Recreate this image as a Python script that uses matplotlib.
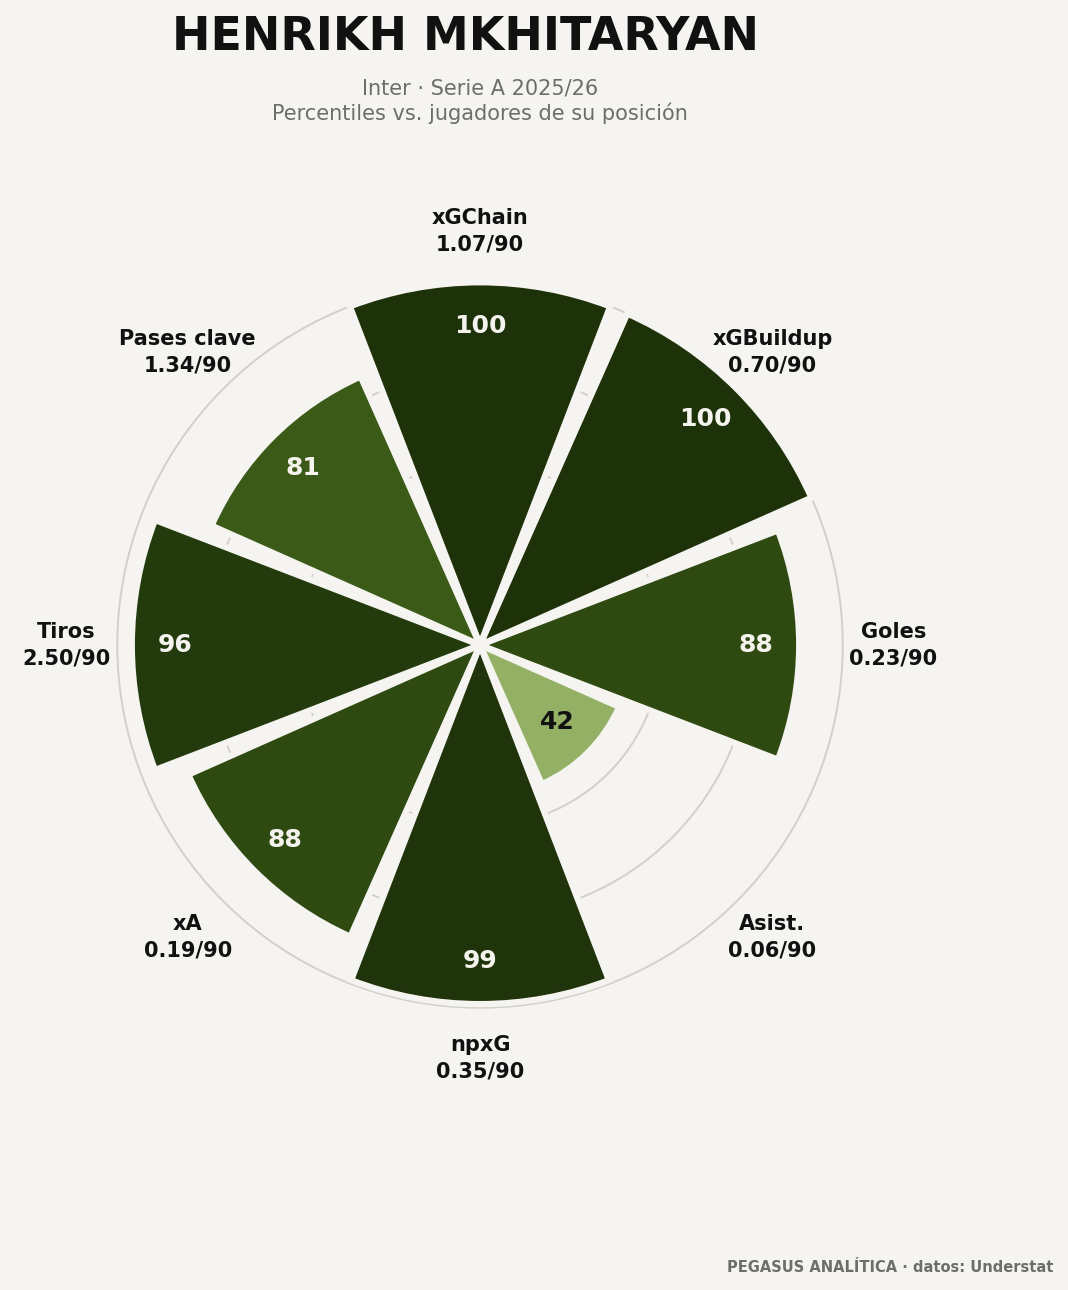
import numpy as np
import matplotlib
matplotlib.use("Agg")
import matplotlib.pyplot as plt
from matplotlib.colors import LinearSegmentedColormap

# datos
categorias = ["xGChain", "xGBuildup", "Goles", "Asist.", "npxG", "xA", "Tiros", "Pases clave"]
por90 = ["1.07/90", "0.70/90", "0.23/90", "0.06/90", "0.35/90", "0.19/90", "2.50/90", "1.34/90"]
percentiles = [100, 100, 88, 42, 99, 88, 96, 81]

jugador = "HENRIKH MKHITARYAN"
subtitulo = "Inter · Serie A 2025/26\nPercentiles vs. jugadores de su posición"
pie = "PEGASUS ANALÍTICA · datos: Understat"

BG = "#f5f4f0"
cmap = LinearSegmentedColormap.from_list(
    "verdes",
    [(0.0, "#e3edd2"), (0.42, "#93b065"), (0.81, "#3b5a17"), (0.88, "#2e4a11"), (1.0, "#1e3209")],
)

fig = plt.figure(figsize=(10.68, 12.9), dpi=100, facecolor=BG)
# radio 102 unidades -> 370 px, centro en (480, 645)
ax = fig.add_axes([0.1030, 0.2132, 0.6929, 0.5736], projection="polar")
ax.set_facecolor(BG)
ax.set_theta_zero_location("N")
ax.set_theta_direction(-1)

n = len(categorias)
ang = np.arange(n) * 2 * np.pi / n
ancho = 2 * np.pi / n * 0.935
colores = [cmap(v / 100) for v in percentiles]

ax.bar(ang, percentiles, width=ancho, bottom=0, color=colores,
       edgecolor=BG, linewidth=4.5, zorder=3)

ax.set_ylim(0, 102)
ax.set_yticks([25, 50, 75, 100])
ax.set_yticklabels([])
ax.set_xticks(ang)
ax.set_xticklabels([])
ax.grid(True, color="#d2d0ca", linewidth=1.4)
ax.xaxis.grid(False)
ax.spines["polar"].set_visible(False)
ax.set_axisbelow(True)

for a, v in zip(ang, percentiles):
    col = "#f5f3ee" if v >= 60 else "#111111"
    ax.text(a, v - 12, str(v), ha="center", va="center", fontsize=18,
            fontweight="bold", color=col, zorder=5)

for a, c, p in zip(ang, categorias, por90):
    ax.text(a, 114, c + "\n" + p, ha="center", va="center", fontsize=15,
            fontweight="bold", color="#111111", linespacing=1.42, clip_on=False)

fig.text(465 / 1068, 1 - 37 / 1290, jugador, ha="center", va="center",
         fontsize=33, fontweight="bold", color="#111111")
fig.text(480 / 1068, 1 - 101 / 1290, subtitulo, ha="center", va="center",
         fontsize=15, color="#6e6e68", linespacing=1.25)
fig.text(1053 / 1068, 1 - 1268 / 1290, pie, ha="right", va="center",
         fontsize=10.5, fontweight="bold", color="#6e6e68")

fig.savefig("out.png", dpi=100, facecolor=BG)
